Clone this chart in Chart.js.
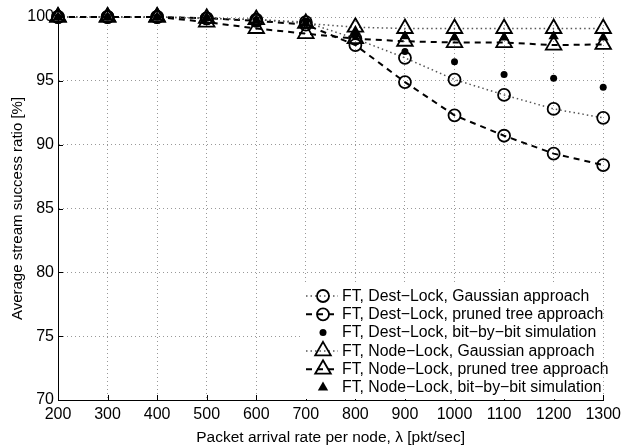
<!DOCTYPE html>
<html>
<head>
<meta charset="utf-8">
<script src="https://cdn.jsdelivr.net/npm/chart.js@4/dist/chart.umd.min.js"></script>
<style>
  html, body { margin: 0; padding: 0; background: #fff; }
  #wrap { width: 626px; height: 445px; position: relative; }
</style>
</head>
<body>
<div id="wrap"><canvas id="c" width="626" height="445"></canvas></div>
<script>
// ---- data ----
const rates = [200, 300, 400, 500, 600, 700, 800, 900, 1000, 1100, 1200, 1300];
const destGaussian = [100, 100, 100, 99.9, 99.8, 99.6, 98.3, 96.8, 95.1, 93.9, 92.8, 92.1];
const destPruned   = [100, 100, 100, 99.9, 99.7, 99.4, 97.8, 94.9, 92.3, 90.7, 89.3, 88.4];
const destSim      = [100, 100, 100, 99.9, 99.8, 99.6, 98.5, 97.3, 96.5, 95.5, 95.2, 94.5];
const nodeGaussian = [100, 100, 100, 99.9, 99.8, 99.5, 99.2, 99.1, 99.1, 99.1, 99.1, 99.1];
const nodePruned   = [100, 100, 100, 99.6, 99.1, 98.7, 98.3, 98.1, 98.0, 98.0, 97.8, 97.85];
const nodeSim      = [100, 100, 100, 99.9, 99.7, 99.5, 98.9, 98.5, 98.4, 98.4, 98.5, 98.4];
const seriesLabels = [
  'FT, Dest\u2212Lock, Gaussian approach',
  'FT, Dest\u2212Lock, pruned tree approach',
  'FT, Dest\u2212Lock, bit\u2212by\u2212bit simulation',
  'FT, Node\u2212Lock, Gaussian approach',
  'FT, Node\u2212Lock, pruned tree approach',
  'FT, Node\u2212Lock, bit\u2212by\u2212bit simulation'
];
const xTicks = rates;
const yTicks = [70, 75, 80, 85, 90, 95, 100];
const xTitle = 'Packet arrival rate per node, \u03bb [pkt/sec]';
const yTitle = 'Average stream success ratio [%]';

const FONT = '"Liberation Sans", Arial, Helvetica, sans-serif';
const toPts = ys => rates.map((x, i) => ({ x: x, y: ys[i] }));

const dotted = { borderColor: '#555', borderWidth: 1.5, borderDash: [1.5, 3] };
const dashed = { borderColor: '#000', borderWidth: 2, borderDash: [6, 5] };

const datasets = [
  Object.assign({ data: toPts(destGaussian), pointStyle: 'circle', pointRadius: 6, pointBorderWidth: 1.8,
    pointBackgroundColor: 'rgba(0,0,0,0)', pointBorderColor: '#000', showLine: true }, dotted),
  Object.assign({ data: toPts(destPruned), pointStyle: 'circle', pointRadius: 6, pointBorderWidth: 1.8,
    pointBackgroundColor: 'rgba(0,0,0,0)', pointBorderColor: '#000', showLine: true }, dashed),
  { data: toPts(destSim), pointStyle: 'circle', pointRadius: 3.5, pointBorderWidth: 0,
    pointBackgroundColor: '#000', pointBorderColor: '#000', showLine: false, borderColor: '#000', borderWidth: 0 },
  Object.assign({ data: toPts(nodeGaussian), pointStyle: 'triangle', pointRadius: 9, pointBorderWidth: 1.8,
    pointBackgroundColor: 'rgba(0,0,0,0)', pointBorderColor: '#000', showLine: true }, dotted),
  Object.assign({ data: toPts(nodePruned), pointStyle: 'triangle', pointRadius: 9, pointBorderWidth: 1.8,
    pointBackgroundColor: 'rgba(0,0,0,0)', pointBorderColor: '#000', showLine: true }, dashed),
  { data: toPts(nodeSim), pointStyle: 'triangle', pointRadius: 6, pointBorderWidth: 0,
    pointBackgroundColor: '#000', pointBorderColor: '#000', showLine: false, borderColor: '#000', borderWidth: 0 }
].map((d, i) => Object.assign(d, {
  label: seriesLabels[i], fill: false, tension: 0, clip: false,
  pointHoverRadius: d.pointRadius, order: 5 - i
}));

const tickPlugin = {
  id: 'inTicks',
  afterDatasetsDraw(chart) {
    const ctx = chart.ctx, xs = chart.scales.x, ys = chart.scales.y, a = chart.chartArea;
    ctx.save();
    ctx.strokeStyle = '#000'; ctx.lineWidth = 1;
    ctx.beginPath();
    xTicks.forEach(v => { const px = Math.round(xs.getPixelForValue(v)) + 0.5; ctx.moveTo(px, a.bottom); ctx.lineTo(px, a.bottom - 5); });
    yTicks.forEach(v => { const py = Math.round(ys.getPixelForValue(v)) + 0.5; ctx.moveTo(a.left, py); ctx.lineTo(a.left + 5, py); });
    ctx.stroke();
    ctx.restore();
  }
};

const legendPlugin = {
  id: 'matlabLegend',
  afterDraw(chart) {
    const ctx = chart.ctx, a = chart.chartArea;
    const boxL = 300, boxT = 285, boxR = a.right - 1, boxB = a.bottom - 1;
    ctx.save();
    ctx.fillStyle = '#fff';
    ctx.fillRect(boxL, boxT, boxR - boxL, boxB - boxT);
    const rowH = 18.3, y0 = 296, lineL = 306, lineR = 338, mx = 323, tx = 342;
    ctx.font = '15.8px ' + FONT;
    ctx.textBaseline = 'middle';
    ctx.textAlign = 'left';
    chart.data.datasets.forEach((d, i) => {
      const y = y0 + i * rowH;
      if (d.showLine) {
        ctx.save();
        ctx.strokeStyle = d.borderColor; ctx.lineWidth = d.borderWidth; ctx.setLineDash(d.borderDash || []);
        ctx.beginPath(); ctx.moveTo(lineL, y); ctx.lineTo(lineR, y); ctx.stroke();
        ctx.restore();
      }
      ctx.save();
      ctx.setLineDash([]);
      ctx.fillStyle = d.pointBackgroundColor; ctx.strokeStyle = d.pointBorderColor; ctx.lineWidth = d.pointBorderWidth;
      Chart.helpers.drawPoint(ctx, { pointStyle: d.pointStyle, rotation: 0, radius: d.pointRadius, borderWidth: d.pointBorderWidth }, mx, y);
      ctx.restore();
      ctx.fillStyle = '#000';
      ctx.fillText(d.label, tx, y + 0.5);
    });
    ctx.restore();
  }
};

new Chart(document.getElementById('c'), {
  type: 'line',
  data: { datasets: datasets },
  plugins: [tickPlugin, legendPlugin],
  options: {
    responsive: false, animation: false, devicePixelRatio: 1,
    layout: { padding: { left: 0, top: 17, right: 18, bottom: 0 } },
    plugins: { legend: { display: false }, tooltip: { enabled: false } },
    scales: {
      x: {
        type: 'linear', min: 200, max: 1300,
        afterFit: s => { s.height = 45; },
        afterBuildTicks: s => { s.ticks = xTicks.map(v => ({ value: v })); },
        ticks: { color: '#000', font: { family: FONT, size: 16 }, padding: 5, maxRotation: 0, autoSkip: false,
          callback: v => String(v) },
        grid: { color: '#999', lineWidth: 1, drawTicks: false },
        border: { display: true, color: '#000', width: 1, dash: [1, 3] },
        title: { display: true, text: xTitle, color: '#000', font: { family: FONT, size: 15.5, lineHeight: 1 }, padding: { top: 0, bottom: 0 } }
      },
      y: {
        type: 'linear', min: 70, max: 100,
        afterFit: s => { s.width = 58; },
        afterBuildTicks: s => { s.ticks = yTicks.map(v => ({ value: v })); },
        ticks: { color: '#000', font: { family: FONT, size: 16 }, padding: 4, autoSkip: false,
          callback: v => String(v) },
        grid: { color: '#999', lineWidth: 1, drawTicks: false },
        border: { display: true, color: '#000', width: 1, dash: [1, 3] },
        title: { display: true, text: yTitle, color: '#000', font: { family: FONT, size: 15, lineHeight: 1 }, padding: { top: 10, bottom: 0 } }
      }
    }
  }
});
</script>
</body>
</html>
